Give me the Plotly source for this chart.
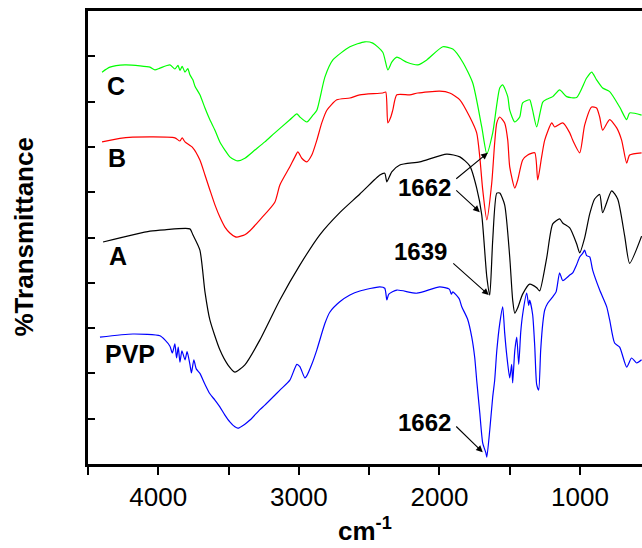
import plotly.graph_objects as go

# wavenumbers (cm-1) and %T (arbitrary offset units)
c_wn = [4400, 4344, 4237, 4130, 4059, 4024, 3988, 3917, 3882, 3860, 3846, 3830, 3810, 3790, 3775, 3754, 3739,
        3704, 3668, 3633, 3597, 3562, 3526, 3491, 3455, 3434, 3384, 3313, 3242, 3171, 3064, 3014, 2993, 2943,
        2900, 2872, 2815, 2758, 2637, 2531, 2474, 2403, 2367, 2339, 2303, 2232, 2154, 2090, 1976, 1905, 1834,
        1763, 1699, 1663, 1621, 1571, 1550, 1514, 1500, 1464, 1429, 1408, 1358, 1344, 1337, 1308, 1265, 1237,
        1194, 1145, 1095, 1024, 953, 917, 882, 839, 789, 718, 668, 647, 562]
c_t = [86.5, 87.6, 88.1, 87.9, 87.6, 87.0, 87.4, 88.1, 87.2, 88.0, 86.9, 87.8, 86.5, 87.3, 85.9, 84.8, 83.4,
       81.5, 78.6, 76.0, 73.7, 71.1, 69.3, 67.8, 67.1, 66.9, 67.5, 69.3, 71.1, 73.1, 76.0, 77.3, 76.6, 75.5,
       77.0, 78.1, 85.4, 89.2, 92.1, 93.2, 92.9, 90.9, 87.0, 88.7, 89.8, 88.7, 88.1, 89.2, 92.1, 91.6, 88.7,
       84.1, 74.4, 68.5, 73.1, 83.0, 83.7, 81.1, 78.1, 75.5, 76.6, 79.7, 80.4, 79.0, 78.1, 74.4, 79.9, 80.5,
       81.1, 82.6, 81.1, 80.9, 85.2, 86.5, 84.8, 83.0, 82.2, 78.8, 76.0, 77.5, 77.0]

b_wn = [4400, 4273, 4059, 3882, 3846, 3830, 3810, 3754, 3704, 3668, 3633, 3597, 3562, 3526, 3491, 3455, 3441,
        3384, 3348, 3277, 3171, 3135, 3064, 3028, 3007, 2979, 2943, 2908, 2872, 2837, 2801, 2730, 2637, 2566,
        2403, 2382, 2367, 2346, 2332, 2303, 2211, 2154, 1998, 1927, 1855, 1784, 1735, 1713, 1692, 1663, 1628,
        1607, 1592, 1571, 1536, 1514, 1500, 1464, 1443, 1408, 1372, 1322, 1301, 1273, 1251, 1201, 1180, 1123,
        1073, 1052, 1002, 967, 917, 882, 860, 839, 789, 739, 704, 668, 647, 562]
b_t = [71.1, 71.9, 72.2, 72.0, 71.3, 72.0, 71.1, 69.8, 67.1, 63.8, 60.5, 57.2, 54.5, 52.3, 51.0, 50.2, 50.1,
       50.6, 51.5, 53.9, 57.8, 61.6, 65.6, 67.8, 68.9, 67.5, 66.7, 68.2, 71.5, 75.3, 78.1, 80.4, 80.8, 81.5,
       81.9, 82.1, 75.3, 76.6, 78.1, 81.5, 81.5, 81.9, 82.3, 81.9, 80.4, 76.6, 73.1, 67.8, 60.5, 53.9, 62.0,
       70.9, 75.3, 76.6, 75.3, 71.5, 65.6, 60.9, 62.7, 67.1, 68.2, 68.7, 62.7, 67.8, 71.5, 75.3, 74.4, 75.3,
       73.1, 71.5, 68.7, 74.8, 78.8, 78.6, 76.6, 73.7, 76.0, 74.2, 71.5, 66.4, 68.2, 68.7]

a_wn = [4393, 4059, 3953, 3775, 3754, 3704, 3668, 3633, 3562, 3505, 3455, 3384, 3277, 3135, 2993, 2851, 2709,
        2566, 2460, 2424, 2389, 2374, 2339, 2282, 2140, 1948, 1855, 1784, 1735, 1699, 1663, 1642, 1621, 1592,
        1571, 1536, 1500, 1479, 1464, 1443, 1408, 1358, 1308, 1287, 1237, 1194, 1145, 1123, 1073, 1024, 1002,
        967, 931, 896, 860, 839, 775, 732, 682, 647, 562]
a_t = [49.0, 51.4, 51.7, 51.9, 50.6, 47.2, 38.0, 31.8, 25.2, 21.9, 20.3, 21.9, 27.4, 36.2, 43.9, 50.6, 55.5,
       59.6, 62.8, 63.8, 64.2, 62.3, 64.5, 66.0, 66.7, 68.4, 67.8, 65.8, 60.9, 55.0, 41.3, 37.3, 49.4, 59.8,
       59.8, 57.2, 45.7, 36.2, 33.3, 34.5, 37.5, 39.7, 38.9, 38.2, 45.5, 53.0, 54.1, 53.2, 52.1, 48.6, 46.6,
       49.9, 55.2, 58.5, 59.5, 55.5, 60.3, 58.5, 50.3, 44.3, 50.3]

p_wn = [4415, 4180, 3988, 3953, 3917, 3900, 3882, 3870, 3858, 3846, 3832, 3810, 3795, 3775, 3764, 3747, 3730,
        3704, 3668, 3633, 3597, 3562, 3526, 3491, 3455, 3434, 3384, 3348, 3277, 3242, 3135, 3064, 3014, 2993,
        2957, 2943, 2908, 2872, 2815, 2780, 2709, 2637, 2566, 2424, 2389, 2374, 2360, 2303, 2161, 1998, 1930,
        1915, 1905, 1860, 1841, 1800, 1770, 1749, 1735, 1713, 1692, 1670, 1663, 1642, 1621, 1607, 1592, 1571,
        1550, 1536, 1521, 1500, 1486, 1479, 1464, 1450, 1436, 1422, 1408, 1379, 1365, 1358, 1337, 1322, 1308,
        1294, 1280, 1265, 1251, 1230, 1194, 1170, 1145, 1123, 1073, 1052, 1024, 1002, 981, 967, 953, 931, 910,
        860, 810, 789, 754, 718, 668, 633, 597, 562]
p_t = [28.0, 28.7, 28.3, 27.4, 26.0, 24.5, 26.5, 23.4, 25.8, 22.5, 25.0, 23.0, 24.8, 22.0, 20.1, 23.0, 21.0,
       20.0, 17.6, 15.5, 14.1, 12.6, 10.8, 9.3, 8.2, 7.9, 8.8, 9.7, 12.0, 13.0, 16.3, 18.5, 22.0, 21.5,
       19.0, 19.5, 22.0, 25.2, 31.0, 33.5, 35.8, 37.3, 38.2, 39.1, 38.8, 36.2, 37.5, 38.4, 37.7, 39.1, 38.6,
       37.5, 38.0, 36.5, 34.7, 32.0, 28.0, 23.5, 18.5, 11.3, 4.6, 2.5, 1.5, 7.5, 14.8, 18.5, 25.0, 31.0,
       34.7, 29.0, 24.0, 19.0, 22.0, 17.9, 25.0, 28.0, 22.0, 29.0, 33.0, 37.7, 35.0, 36.2, 33.0, 26.0, 17.5,
       16.3, 25.0, 31.0, 34.0, 35.5, 36.9, 38.0, 42.2, 40.5, 41.7, 42.2, 44.0, 45.7, 46.5, 47.2, 46.0, 45.7, 42.8,
       38.4, 34.7, 31.8, 26.7, 25.8, 21.4, 23.4, 22.3, 23.0]

tick_vals = [4000, 3000, 2000, 1000]
tick_text = ['4000', '3000', '2000', '1000']
minor_tick_vals = [4500, 3500, 2500, 1500]

FONT = "Liberation Sans, Arial, sans-serif"

fig = go.Figure()
for wn, t, col in [(p_wn, p_t, '#0000ff'), (a_wn, a_t, '#000000'), (b_wn, b_t, '#ff0000'), (c_wn, c_t, '#00ff00')]:
    fig.add_trace(go.Scatter(x=wn, y=t, mode='lines', showlegend=False,
                             line=dict(color=col, width=1.2, shape='spline', smoothing=0.6)))

labels = [('C', 4301, 83.4), ('B', 4294, 67.5), ('A', 4287, 45.9), ('PVP', 4202, 24.3)]
for txt, x, y in labels:
    fig.add_annotation(x=x, y=y, xref='x', yref='y', text='<b>%s</b>' % txt, showarrow=False,
                       font=dict(family=FONT, size=25, color='black'))

peak_notes = [('1662', 2104, 61.1), ('1639', 2133, 47.0), ('1662', 2104, 9.1)]
for txt, x, y in peak_notes:
    fig.add_annotation(x=x, y=y, xref='x', yref='y', text='<b>%s</b>' % txt, showarrow=False,
                       font=dict(family=FONT, size=24, color='black'))

arrows = [(1891, 62.7, 1656, 68.7), (1891, 60.7, 1713, 55.6), (1912, 44.6, 1649, 37.3), (1891, 8.6, 1692, 2.6)]
for x0, y0, x1, y1 in arrows:
    fig.add_annotation(x=x1, y=y1, ax=x0, ay=y0, xref='x', yref='y', axref='x', ayref='y', text='',
                       showarrow=True, arrowhead=2, arrowsize=1.2, arrowwidth=1.1, arrowcolor='black')

fig.add_annotation(x=0.5, y=-0.145, xref='paper', yref='paper', text='<b>cm<sup>-1</sup></b>', showarrow=False,
                   yanchor='middle', font=dict(family=FONT, size=26, color='black'))
fig.add_annotation(x=-0.148, y=0.5, xref='paper', yref='paper', text='<b>%Transmittance</b>', showarrow=False,
                   textangle=-90, font=dict(family=FONT, size=26, color='black'))

fig.update_xaxes(range=[4500, 559], tickmode='array', tickvals=tick_vals, ticktext=tick_text,
                 ticks='outside', ticklen=8, tickwidth=2, tickcolor='black', showline=True, linewidth=2.5,
                 linecolor='black', mirror=True, showgrid=False, zeroline=False,
                 minor=dict(tickmode='array', tickvals=minor_tick_vals, ticks='outside', ticklen=8,
                            tickwidth=2, tickcolor='black', showgrid=False),
                 tickfont=dict(family=FONT, size=26, color='black'))
fig.update_yaxes(range=[0, 100], tickmode='linear', tick0=0, dtick=10, ticks='inside', ticklen=7, tickwidth=1.5,
                 tickcolor='black', showticklabels=False, showline=True, linewidth=2.5, linecolor='black',
                 mirror=False, showgrid=False, zeroline=False)
fig.update_layout(width=642, height=548, margin=dict(l=88, r=0, t=11, b=84), plot_bgcolor='white',
                  paper_bgcolor='white', font=dict(family=FONT))
fig.write_html("out.html")
